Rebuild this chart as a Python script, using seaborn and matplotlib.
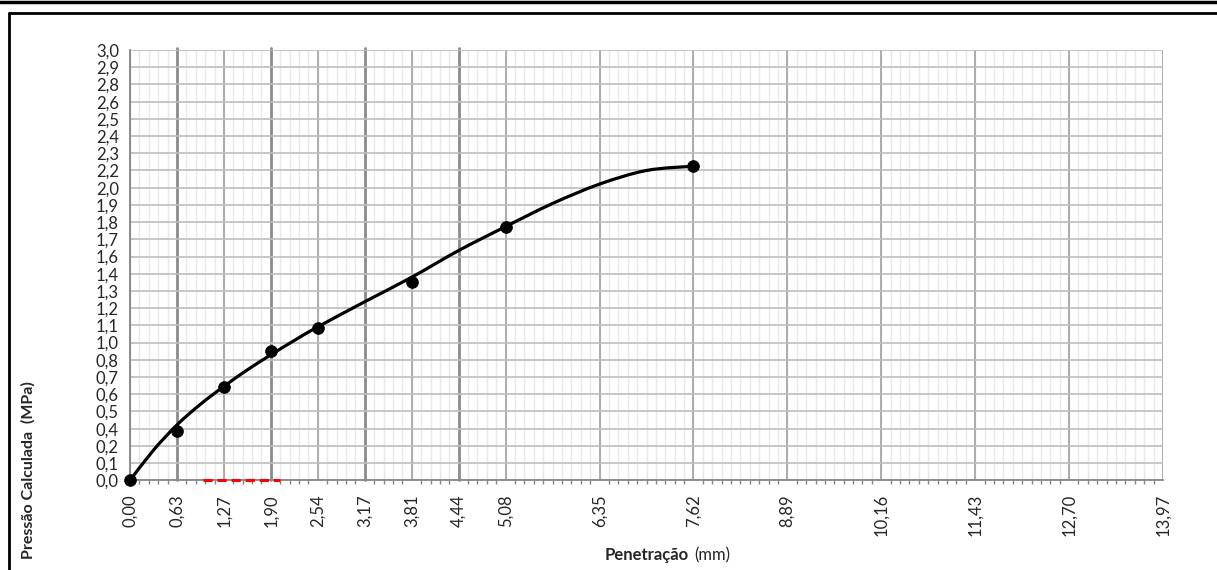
import numpy as np
import pandas as pd
import seaborn as sns
import matplotlib.pyplot as plt
from matplotlib.lines import Line2D
from matplotlib.path import Path
from matplotlib.patches import PathPatch

# Measured points (penetration mm, calculated pressure MPa)
penetracao = [0.0, 0.635, 1.27, 1.905, 2.54, 3.81, 5.08, 7.62]
pressao = [0.0, 0.345, 0.65, 0.90, 1.065, 1.38, 1.765, 2.19]

# smoothed curve, values
curva_x = [0.0, 0.3175, 0.635, 0.9525, 1.27, 1.5875, 1.905, 2.2225, 2.54, 3.175,
           3.81, 4.445, 5.08, 5.715, 6.35, 6.985, 7.62]
curva_y = [0.0, 0.21, 0.386, 0.53, 0.655, 0.77, 0.875, 0.975, 1.07, 1.245,
           1.416, 1.602, 1.769, 1.93, 2.065, 2.16, 2.19]

# red dashed reference segment on the x axis
ref_x = [0.99, 2.03]
ref_y = [0.0, 0.0]

x_ticks = [0.0, 0.635, 1.27, 1.905, 2.54, 3.175, 3.81, 4.445, 5.08, 6.35, 7.62,
           8.89, 10.16, 11.43, 12.70, 13.97]
x_labels = ['0,00', '0,63', '1,27', '1,90', '2,54', '3,17', '3,81', '4,44', '5,08',
            '6,35', '7,62', '8,89', '10,16', '11,43', '12,70', '13,97']
y_ticks = [round(i * 0.12, 2) for i in range(26)]
y_labels = ['0,0', '0,1', '0,2', '0,4', '0,5', '0,6', '0,7', '0,8', '1,0', '1,1',
            '1,2', '1,3', '1,4', '1,6', '1,7', '1,8', '1,9', '2,0', '2,2', '2,3',
            '2,4', '2,5', '2,6', '2,8', '2,9', '3,0']
dark_lines = [0.635, 1.905, 3.175, 4.445]


def smooth_path(xs, ys):
    # Catmull-Rom through the points, as cubic Bezier segments (like a "smoothed line")
    p = np.column_stack([xs, ys])
    p = np.vstack([p[0], p, p[-1]])
    verts = [tuple(p[1])]
    codes = [Path.MOVETO]
    for i in range(1, len(p) - 2):
        c1 = p[i] + (p[i + 1] - p[i - 1]) / 6
        c2 = p[i + 1] - (p[i + 2] - p[i]) / 6
        verts += [tuple(c1), tuple(c2), tuple(p[i + 1])]
        codes += [Path.CURVE4] * 3
    return Path(verts, codes)


sns.set_style("white")
plt.rcParams['font.family'] = ['Lato', 'DejaVu Sans']

fig = plt.figure(figsize=(12.17, 5.70), dpi=100)
ax = fig.add_axes([130 / 1217, 1 - 480.3 / 570, 1033 / 1217, 430.3 / 570])

# grid
for v in np.arange(0, 13.98, 0.127):
    ax.axvline(v, color='#e8e8e8', lw=1.0, zorder=0)
for v in np.arange(0, 13.98, 1.27):
    ax.axvline(v, color='#a6a6a6', lw=1.3, zorder=1)
for v in dark_lines:
    ax.plot([v, v], [0, 3.015], color='#8c8c8c', lw=2.0, zorder=1, clip_on=False)
for v in y_ticks:
    ax.axhline(v, color='#bcbcbc', lw=1.2, zorder=1)

ax.add_patch(PathPatch(smooth_path(curva_x, curva_y), fill=False, ec='black',
                       lw=2.3, zorder=3, capstyle='round'))

pts = pd.DataFrame({'x': penetracao, 'y': pressao})
sns.scatterplot(data=pts, x='x', y='y', color='black', s=70, edgecolor='black',
                ax=ax, zorder=4, clip_on=False)

ax.plot(ref_x, ref_y, color='#ff0000', lw=2.2, ls=(0, (3, 1.6)), zorder=5, clip_on=False)

ax.set_xlim(0, 13.97)
ax.set_ylim(0, 3.0)
ax.set_xticks(x_ticks)
ax.set_xticklabels(x_labels, rotation=90, fontsize=12)
ax.set_xticks(np.arange(0, 13.98, 0.127), minor=True)
ax.set_yticks(y_ticks)
ax.set_yticklabels(y_labels, fontsize=12)
ax.tick_params(axis='x', which='major', length=5, width=1, color='#868686', pad=5)
ax.tick_params(axis='x', which='minor', length=3, width=1, color='#868686', bottom=True)
ax.tick_params(axis='y', length=6, width=1, color='#868686', pad=2)
ax.set_xlabel('')
ax.set_ylabel('')
for side in ['top', 'right']:
    ax.spines[side].set_visible(False)
for side in ['left', 'bottom']:
    ax.spines[side].set_color('#868686')
    ax.spines[side].set_linewidth(1.3)

fig.text(28 / 1217, 1 - 470 / 570, 'Pressão Calculada  (MPa)', rotation=90,
         ha='center', va='center', fontsize=11.5, fontweight='bold')
fig.text(689 / 1217, 1 - 555 / 570, 'Penetração', ha='right', va='center',
         fontsize=12, fontweight='bold')
fig.text(694 / 1217, 1 - 555 / 570, '(mm)', ha='left', va='center', fontsize=12)

# frame lines around the chart
fig.add_artist(Line2D([0, 1], [1 - 1.5 / 570, 1 - 1.5 / 570], color='black', lw=2.5))
fig.add_artist(Line2D([9 / 1217, 1], [1 - 12.5 / 570, 1 - 12.5 / 570], color='black', lw=2.0))
fig.add_artist(Line2D([9 / 1217, 9 / 1217], [0, 1 - 12.5 / 570], color='black', lw=2.0))

fig.savefig('out.png', dpi=100)
